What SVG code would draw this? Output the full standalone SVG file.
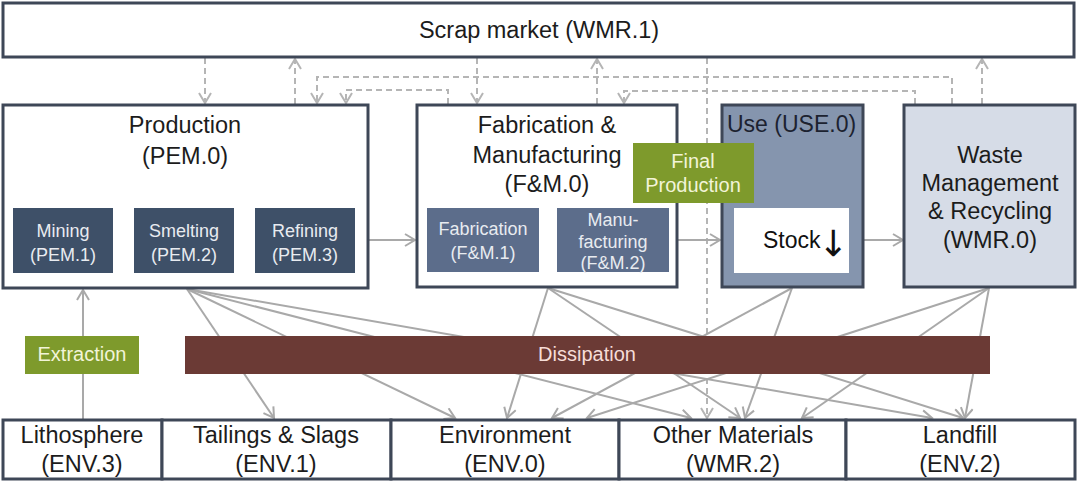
<svg xmlns="http://www.w3.org/2000/svg" width="1080" height="481" viewBox="0 0 1080 481">
<defs>
<style>
text{font-family:"Liberation Sans",Arial,sans-serif;}
.box{fill:#ffffff;stroke:#3e4757;stroke-width:3;}
.main{font-size:23.5px;fill:#1c1c1c;text-anchor:middle;}
.sub{font-size:18px;fill:#e8ebf0;text-anchor:middle;}
.sp{fill:#3e5068;}
.sf{fill:#5c6d8b;}
.green{fill:#7e9a2c;}
.gt{font-size:20px;fill:#f2f4d8;text-anchor:middle;}
.ln{fill:none;stroke:#a9a9a9;stroke-width:2;marker-end:url(#ah);}
.dl{fill:none;stroke:#b5b5b5;stroke-width:2;stroke-dasharray:6 4;marker-end:url(#ahd);}
</style>
<marker id="ah" markerUnits="userSpaceOnUse" markerWidth="14" markerHeight="16" refX="11" refY="7" orient="auto">
<path d="M1,1 L11,7 L1,13" fill="none" stroke="#a9a9a9" stroke-width="2"/>
</marker>
<marker id="ahd" markerUnits="userSpaceOnUse" markerWidth="14" markerHeight="16" refX="11" refY="7" orient="auto">
<path d="M1,1 L11,7 L1,13" fill="none" stroke="#b5b5b5" stroke-width="2"/>
</marker>
</defs>
<rect width="1080" height="481" fill="#ffffff"/>

<g id="connectors">
<path class="dl" d="M205,58 V103"/>
<path class="dl" d="M295,104 V59"/>
<path class="dl" d="M952,104 V77 H317 V103"/>
<path class="dl" d="M448,104 V90 H346 V103"/>
<path class="dl" d="M477,58 V103"/>
<path class="dl" d="M597,104 V59"/>
<path class="dl" d="M915,104 V91 H624 V103"/>
<path class="dl" d="M982,104 V59"/>
<path class="dl" d="M707,58 V418"/>
<path class="ln" d="M113,240 H133"/>
<path class="ln" d="M234,240 H254"/>
<path class="ln" d="M368,240 H415"/>
<path class="ln" d="M539,240 H556"/>
<path class="ln" d="M677,240 H720"/>
<path class="ln" d="M863,240 H903"/>
<path class="ln" d="M83,420 V290"/>
<path class="ln" d="M187,289 L274,418"/>
<path class="ln" d="M187,289 L455,418"/>
<path class="ln" d="M187,289 L691,418"/>
<path class="ln" d="M187,289 L932,418"/>
<path class="ln" d="M548,288 L507,418"/>
<path class="ln" d="M548,288 L740,418"/>
<path class="ln" d="M548,288 L963,418"/>
<path class="ln" d="M792,288 L552,418"/>
<path class="ln" d="M792,288 L745,418"/>
<path class="ln" d="M989,288 L587,418"/>
<path class="ln" d="M989,288 L802,418"/>
<path class="ln" d="M989,288 L965,418"/>
</g>

<g id="scrap-market">
<rect class="box" x="3" y="3" width="1071" height="54"/>
<text class="main" x="539" y="38">Scrap market (WMR.1)</text>
</g>

<g id="production">
<rect class="box" x="3" y="105" width="365" height="183"/>
<text class="main" x="185" y="133">Production</text>
<text class="main" x="185" y="164">(PEM.0)</text>
</g>
<g id="mining">
<rect class="sp" x="13" y="208" width="100" height="65"/>
<text class="sub" x="63" y="237">Mining</text>
<text class="sub" x="63" y="261">(PEM.1)</text>
</g>
<g id="smelting">
<rect class="sp" x="134" y="208" width="100" height="65"/>
<text class="sub" x="184" y="237">Smelting</text>
<text class="sub" x="184" y="261">(PEM.2)</text>
</g>
<g id="refining">
<rect class="sp" x="255" y="208" width="100" height="65"/>
<text class="sub" x="305" y="237">Refining</text>
<text class="sub" x="305" y="261">(PEM.3)</text>
</g>

<g id="fm">
<rect class="box" x="417" y="105" width="260" height="182"/>
<text class="main" x="547" y="133">Fabrication &amp;</text>
<text class="main" x="547" y="163">Manufacturing</text>
<text class="main" x="547" y="192">(F&amp;M.0)</text>
</g>
<g id="fabrication">
<rect class="sf" x="427" y="208" width="112" height="64"/>
<text class="sub" x="483" y="235">Fabrication</text>
<text class="sub" x="483" y="259">(F&amp;M.1)</text>
</g>
<g id="manufacturing">
<rect class="sf" x="557" y="208" width="112" height="64"/>
<text class="sub" x="613" y="226">Manu-</text>
<text class="sub" x="613" y="248">facturing</text>
<text class="sub" x="613" y="269">(F&amp;M.2)</text>
</g>

<g id="use">
<rect x="722" y="105" width="141" height="182" fill="#8595ae" stroke="#3e4757" stroke-width="3"/>
<text x="727" y="132" style="font-size:23px;fill:#1c2230">Use (USE.0)</text>
<rect x="734" y="208" width="115" height="65" fill="#ffffff"/>
<text x="763" y="248" style="font-size:23px;fill:#111111">Stock</text>
<text x="833" y="256" style="font-family:'DejaVu Sans',sans-serif;font-size:36px;fill:#111111;text-anchor:middle">↓</text>
</g>

<g id="wmr">
<rect x="904" y="105" width="171" height="182" fill="#d6dce7" stroke="#3e4757" stroke-width="3"/>
<text class="main" x="990" y="163">Waste</text>
<text class="main" x="990" y="191">Management</text>
<text class="main" x="990" y="219">&amp; Recycling</text>
<text class="main" x="990" y="248">(WMR.0)</text>
</g>

<g id="final-production">
<rect class="green" x="633" y="143" width="121" height="60"/>
<text class="gt" x="693" y="168">Final</text>
<text class="gt" x="693" y="192">Production</text>
</g>

<g id="extraction">
<rect class="green" x="25" y="336" width="114" height="38"/>
<text class="gt" x="82" y="361">Extraction</text>
</g>

<g id="dissipation">
<rect x="185" y="336" width="805" height="38" fill="#6b3a35"/>
<text x="587" y="361" style="font-size:20px;fill:#f6ddd8;text-anchor:middle">Dissipation</text>
</g>

<g id="lithosphere">
<rect class="box" x="3" y="420" width="159" height="59"/>
<text class="main" x="82" y="443">Lithosphere</text>
<text class="main" x="82" y="472">(ENV.3)</text>
</g>
<g id="tailings">
<rect class="box" x="162" y="420" width="229" height="59"/>
<text class="main" x="276" y="443">Tailings &amp; Slags</text>
<text class="main" x="276" y="472">(ENV.1)</text>
</g>
<g id="environment">
<rect class="box" x="391" y="420" width="228" height="59"/>
<text class="main" x="505" y="443">Environment</text>
<text class="main" x="505" y="472">(ENV.0)</text>
</g>
<g id="other-materials">
<rect class="box" x="619" y="420" width="227" height="59"/>
<text class="main" x="733" y="443">Other Materials</text>
<text class="main" x="733" y="472">(WMR.2)</text>
</g>
<g id="landfill">
<rect class="box" x="846" y="420" width="229" height="59"/>
<text class="main" x="960" y="443">Landfill</text>
<text class="main" x="960" y="472">(ENV.2)</text>
</g>
</svg>
